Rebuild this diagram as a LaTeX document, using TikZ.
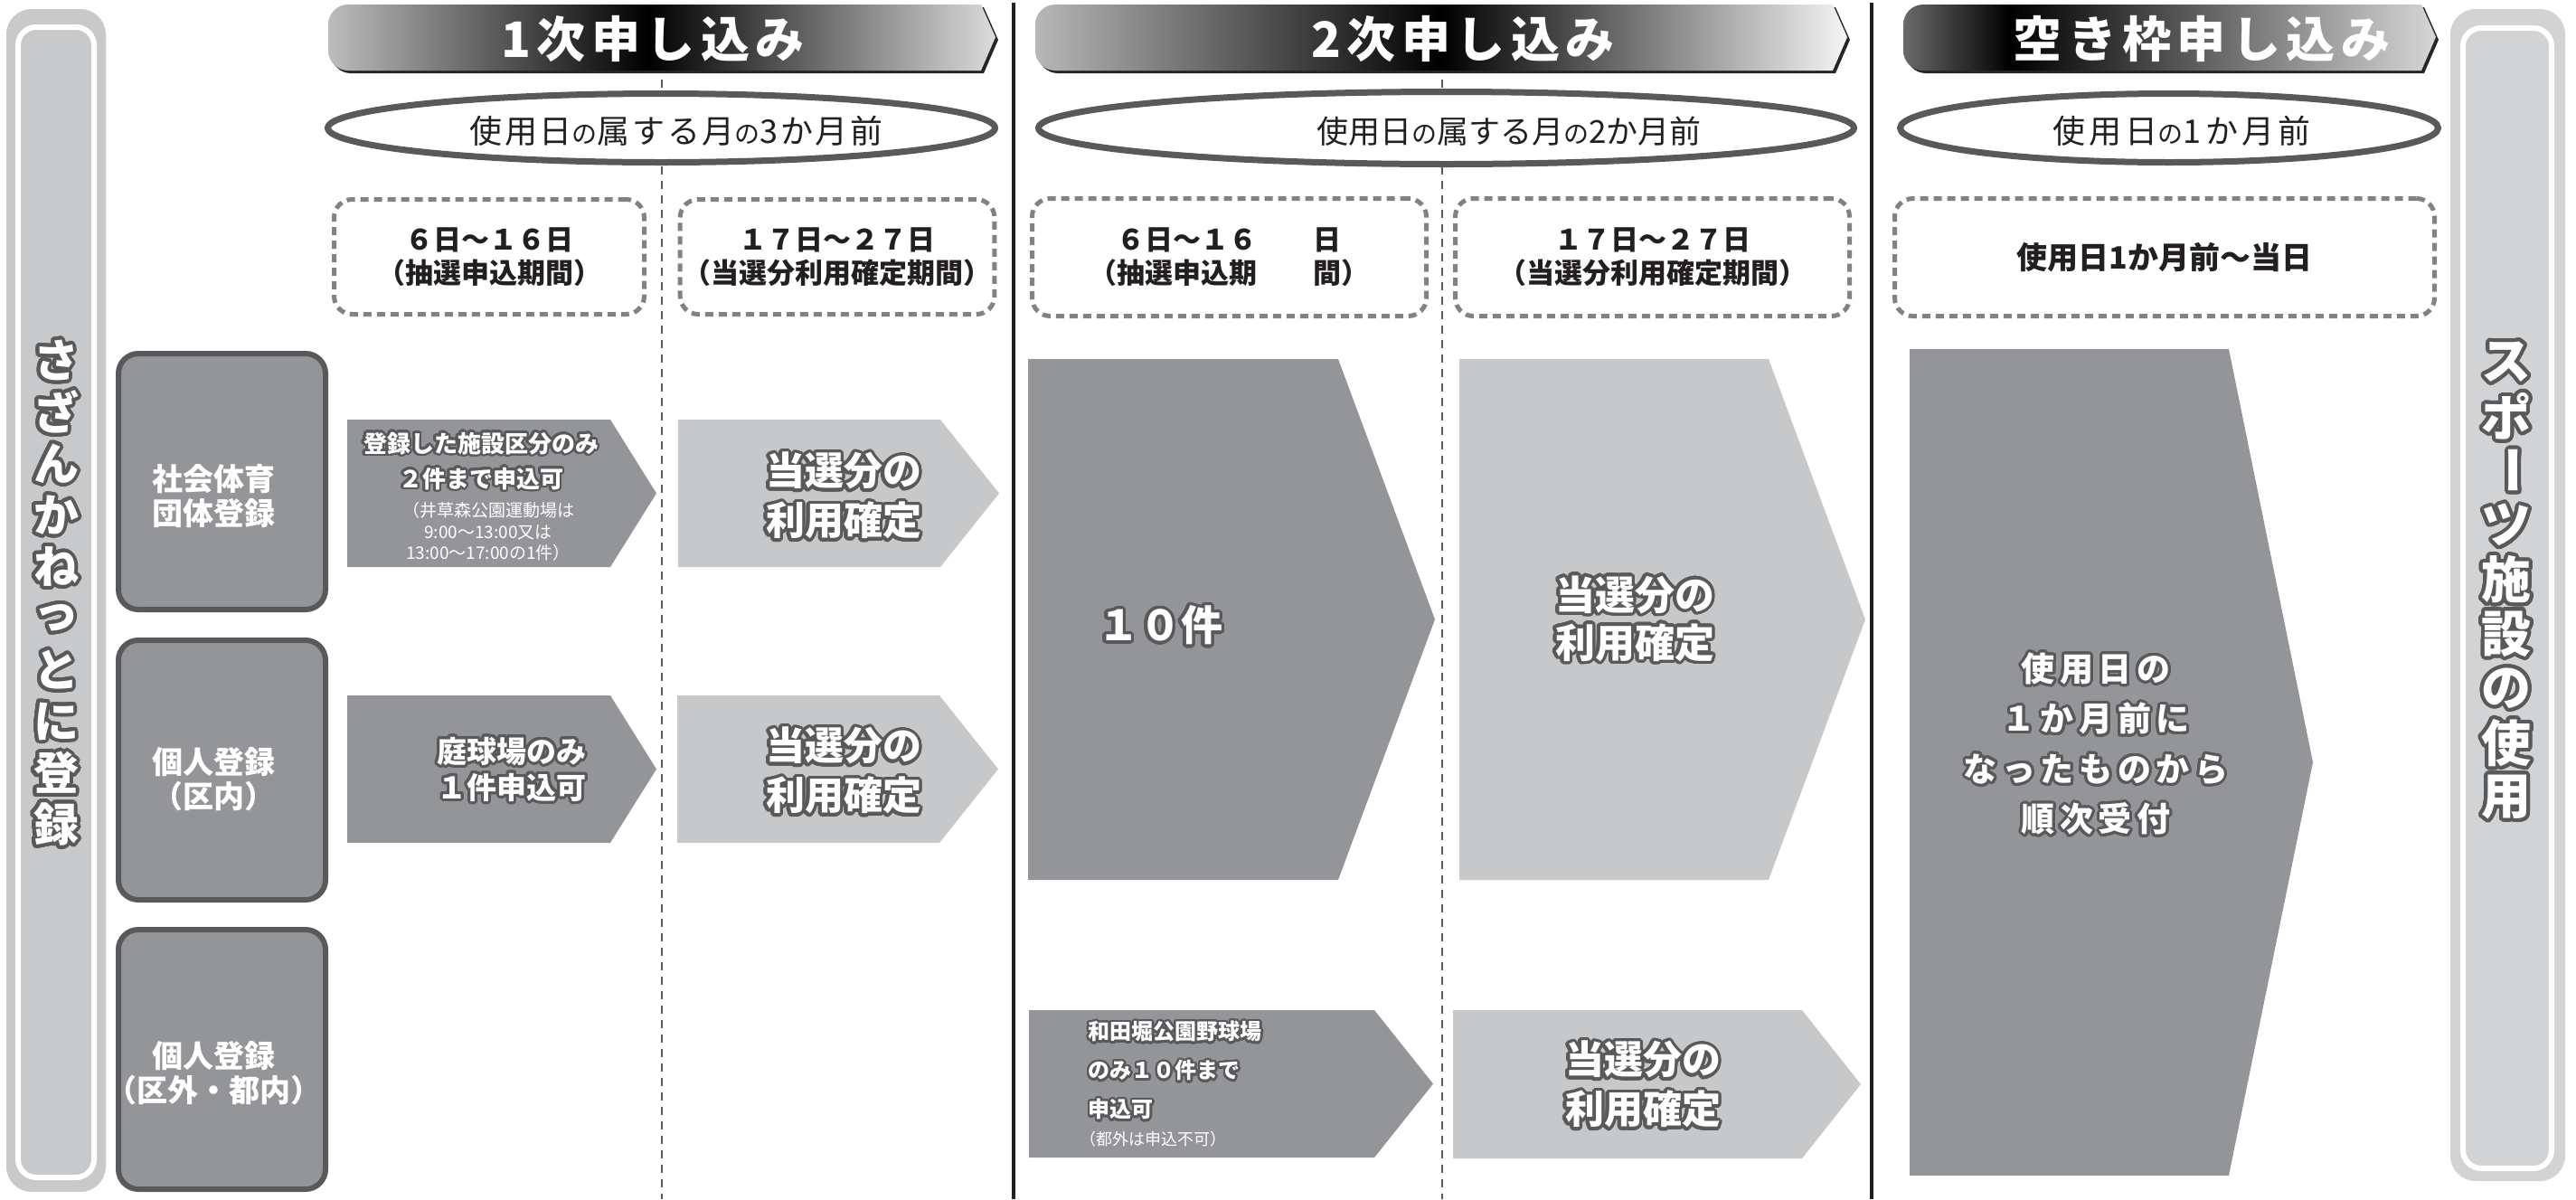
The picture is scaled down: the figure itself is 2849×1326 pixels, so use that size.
\documentclass[tikz,border=0pt]{standalone}
\usepackage{fontspec}
\setmainfont{Noto Sans CJK JP}
\usepackage{graphicx}
\usepackage[copies]{contour}
\usetikzlibrary{positioning,shapes.geometric}
\definecolor{drk}{HTML}{939598}
\definecolor{lgt}{HTML}{C7C8CA}
\definecolor{edg}{HTML}{58595B}
\definecolor{ink}{HTML}{231F20}
\definecolor{dsh}{HTML}{808285}
\definecolor{barl}{HTML}{C8C9CB}
\definecolor{barr}{HTML}{D1D3D4}
\pgfdeclarehorizontalshading{hdone}{100bp}{color(0bp)=(black!26); color(25bp)=(black!26); color(49bp)=(black); color(75bp)=(black!14); color(100bp)=(black!14)}
\pgfdeclarehorizontalshading{hdtwo}{100bp}{color(0bp)=(black!28); color(25bp)=(black!28); color(50bp)=(black); color(75bp)=(black!4); color(100bp)=(black!4)}
\pgfdeclarehorizontalshading{hdthr}{100bp}{color(0bp)=(black!58); color(25bp)=(black!58); color(35bp)=(black); color(75bp)=(black!16); color(100bp)=(black!16)}
\contournumber{32}
\newcommand{\olt}[1]{\contour{edg}{#1}}
\newcommand{\smno}{{\fontsize{28}{28}\selectfont の}}
\newcommand{\fwd}{\addfontfeature{CharacterWidth=Full}}

\begin{document}
\begin{tikzpicture}[x=1pt,y=-1pt,
    hdtext/.style={text=white, font=\bfseries\fontsize{54}{60}\selectfont\addfontfeature{LetterSpace=12}},
    perel/.style={ellipse, draw=edg, line width=7, fill=white, inner sep=0},
    pertext/.style={text=ink, font=\fontsize{36}{40}\selectfont},
    datebox/.style={draw=dsh, line width=5, dash pattern=on 9pt off 6pt, rounded corners=20, align=center, text=ink, font=\bfseries\fontsize{31}{37}\selectfont},
    regbox/.style={draw=edg, fill=drk, line width=6, rounded corners=22, minimum width=229},
    regtext/.style={text=white, align=center, font=\bfseries\fontsize{34}{38}\selectfont},
    cfmtext/.style={text=white, align=center, font=\bfseries\fontsize{43}{55}\selectfont\fwd\contourlength{3.5pt}},
    notetext/.style={text=white, align=center, font=\bfseries\fontsize{26}{39}\selectfont\fwd\contourlength{2.5pt}},
    smtext/.style={text=white, align=center, font=\fontsize{19}{23.5}\selectfont},
    sidetext/.style={text=white, font=\bfseries\fontsize{50}{50}\selectfont\contourlength{4pt}}]
    \useasboundingbox (0,0) rectangle (2849,1326);

    % guide lines
    \foreach \x in {732,1595}
        \draw[edg, line width=2.5, dash pattern=on 9pt off 7pt] (\x,72) -- (\x,1326);
    \foreach \x in {1121,2070}
        \draw[ink, line width=4] (\x,3) -- (\x,1326);

    % side bars
    \fill[barl, rounded corners=28] (7,10) rectangle (117,1318);
    \draw[white, line width=6, rounded corners=20] (20,30) rectangle (104,1302);
    \fill[barr, rounded corners=28] (2710,10) rectangle (2837,1306);
    \draw[white, line width=6, rounded corners=20] (2724,31) rectangle (2822,1292);
    \foreach \c [count=\i] in {さ,ざ,ん,か,ね,っ,と,に,登,録}
        \node[sidetext] (sl\i) at (62,{400.5+57*(\i-1)}) {\olt{\c}};
    \foreach \c [count=\i] in {ス,ポ,{\rotatebox[origin=c]{-90}{ー}},ツ,施,設,の,使,用}
        \node[sidetext, font=\bfseries\fontsize{55}{55}\selectfont\contourlength{4pt}] (sr\i) at (2772,{402+60.2*(\i-1)}) {\olt{\c}};

    % headers
    \foreach \xa/\xb/\shd in {363/1085/hdone, 1145/2027/hdtwo, 2105/2678/hdthr}
    {
        \fill[black!85, xshift=3pt, yshift=-3pt, rounded corners=22] (\xb-200,5) -- (\xa,5) -- (\xa,78) -- (\xb-200,78) [sharp corners] -- (\xb,78) -- (\xb+16,41) -- (\xb,5) -- cycle;
        \shade[shading=\shd, rounded corners=22] (\xb-200,5) -- (\xa,5) -- (\xa,78) -- (\xb-200,78) [sharp corners] -- (\xb,78) -- (\xb+16,41) -- (\xb,5) -- cycle;
    }
    \node[hdtext] (h1) at (722,43) {1次申し込み};
    \node[hdtext] (h2) at (1618,43) {2次申し込み};
    \node[hdtext] (h3) at (2435,43) {空き枠申し込み};

    % periods
    \node[perel, minimum width=738, minimum height=76] (e1) at (731.5,141.5) {};
    \node[perel, minimum width=902, minimum height=80] (e2) at (1599.5,141.5) {};
    \node[perel, minimum width=595, minimum height=76] (e3) at (2399,141.5) {};
    \node[pertext, font=\fontsize{36}{40}\selectfont\addfontfeature{LetterSpace=7}] (p1) at (748,145) {使用日\smno 属する月\smno 3か月前};
    \node[pertext, font=\fontsize{35}{40}\selectfont] (p2) at (1669,145) {使用日\smno 属する月\smno 2か月前};
    \node[pertext, font=\fontsize{36}{40}\selectfont\addfontfeature{LetterSpace=12}] (p3) at (2413,145) {使用日\smno 1か月前};

    % date ranges
    \node[datebox, minimum width=343, minimum height=127] (d1) at (541,284) {{\fwd 6日〜16日}\\（抽選申込期間）};
    \node[datebox, minimum width=343, minimum height=127] (d2) at (926,284) {{\fwd 17日〜27日}\\（当選分利用確定期間）};
    \node[datebox, minimum width=436, minimum height=130] (d3) at (1359.5,284.5) {{\fwd 6日〜16　　日}\\（抽選申込期　　間）};
    \node[datebox, minimum width=436, minimum height=130] (d4) at (1827.5,284.5) {{\fwd 17日〜27日}\\（当選分利用確定期間）};
    \node[datebox, minimum width=597, minimum height=130, font=\bfseries\fontsize{34}{37}\selectfont] (d5) at (2394,284.5) {使用日1か月前〜当日};

    % registrations
    \node[regbox, minimum height=283] (s1) at (245.5,532.5) {};
    \node[regbox, minimum height=287] (s2) at (245.5,851.5) {};
    \node[regbox, minimum height=287] (s3) at (245.5,1171.5) {};
    \node[regtext] (s1t) at (236,549) {社会体育\\団体登録};
    \node[regtext] (s2t) at (236,862) {個人登録\\（区内）};
    \node[regtext] (s3t) at (236,1187) {個人登録\\（区外・都内）};

    % arrows
    \foreach \xa/\xb/\xc/\ya/\yb/\col in {384/675/726/464/627/drk, 750/1040/1105/464/627/lgt,
        384/675/726/769/932/drk, 749/1039/1104/769/932/lgt,
        1137/1480/1587/397/973/drk, 1614/1956/2063/397/973/lgt,
        1138/1520/1585/1117/1280/drk, 1607/1993/2058/1117/1281/lgt,
        2112/2465/2558/386/1300/drk}
        \fill[\col] (\xa,\ya) -- (\xb,\ya) -- (\xc,{(\ya+\yb)/2}) -- (\xb,\yb) -- (\xa,\yb) -- cycle;

    \node[notetext] (n1) at (532,511) {\olt{登録した施設区分のみ}\\\olt{2件まで申込可}};
    \node[smtext] (n1s) at (540,588) {（井草森公園運動場は\\9:00〜13:00又は\\13:00〜17:00の1件）};
    \node[notetext, font=\bfseries\fontsize{33}{40}\selectfont\fwd\contourlength{3pt}] (n2) at (566,852) {\olt{庭球場のみ}\\\olt{1件申込可}};
    \node[notetext, align=left, anchor=west, font=\bfseries\fontsize{24}{43}\selectfont\fwd\contourlength{2.5pt}] (n3) at (1200,1185) {\olt{和田堀公園野球場}\\\olt{のみ10件まで}\\\olt{申込可}};
    \node[smtext, anchor=west, font=\fontsize{18}{20}\selectfont] (n3s) at (1191,1260) {（都外は申込不可）};
    \node[cfmtext, font=\bfseries\fontsize{46}{50}\selectfont\fwd\contourlength{3.5pt}] (k10) at (1283,693) {\olt{10件}};
    \node[cfmtext] (c1) at (933,550) {\olt{当選分の}\\\olt{利用確定}};
    \node[cfmtext] (c2) at (933,854) {\olt{当選分の}\\\olt{利用確定}};
    \node[cfmtext, font=\bfseries\fontsize{44}{53}\selectfont\fwd\contourlength{3.5pt}] (c3) at (1808,686) {\olt{当選分の}\\\olt{利用確定}};
    \node[cfmtext] (c4) at (1817,1201) {\olt{当選分の}\\\olt{利用確定}};
    \node[cfmtext, font=\bfseries\fontsize{37}{55.5}\selectfont\fwd\addfontfeature{LetterSpace=15}\contourlength{3pt}] (q1) at (2318,824) {\olt{使用日の}\\\olt{1か月前に}\\\olt{なったものから}\\\olt{順次受付}};
\end{tikzpicture}
\end{document}
